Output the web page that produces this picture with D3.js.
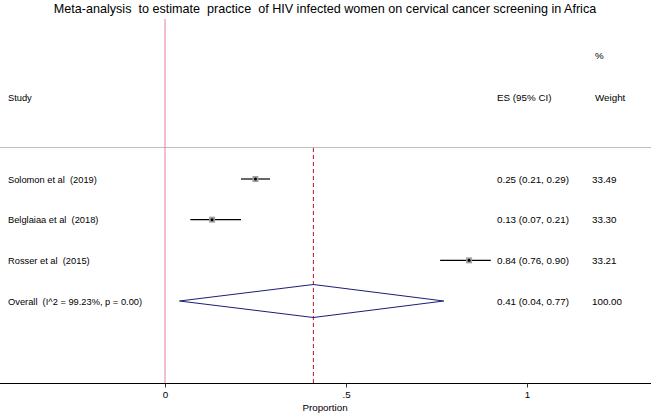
<!DOCTYPE html>
<html><head><meta charset="utf-8">
<script src="https://cdn.jsdelivr.net/npm/d3@7"></script>
<style>body{margin:0;background:#fff}svg{display:block;font-family:"Liberation Sans",Arial,sans-serif}svg text{white-space:pre}</style>
</head><body><svg id="c" width="651" height="413"></svg>
<script>
const studies = ["Solomon et al  (2019)", "Belglaiaa et al  (2018)", "Rosser et al  (2015)"];
const es = [0.25, 0.13, 0.84];
const lo = [0.21, 0.07, 0.76];
const hi = [0.29, 0.21, 0.90];
const weights = ["33.49", "33.30", "33.21"];
const overallLabel = "Overall  (I^2 = 99.23%, p = 0.00)";
const overall = {es: 0.41, lo: 0.04, hi: 0.77, w: "100.00"};
const tickVals = [0, 0.5, 1];
const tickLabels = ["0", ".5", "1"];
const title = "Meta-analysis  to estimate  practice  of HIV infected women on cervical cancer screening in Africa";

const svg = d3.select("#c");
const x = d3.scaleLinear().domain([0, 1]).range([165, 527]);
const rows = studies.concat(["Overall"]);
const y = d3.scalePoint().domain(d3.range(rows.length)).range([179, 301]);
const fs = 9.8, fsL = 9.3;
const axisY = 383.5;
const esX = 497, wX = 592;

svg.append("text").attr("x", 325).attr("y", 13).attr("text-anchor", "middle")
  .attr("font-size", 12.6).text(title);

// header
svg.append("text").attr("x", wX + 3).attr("y", 59).attr("font-size", fs).text("%");
svg.append("text").attr("x", 8).attr("y", 101).attr("font-size", fsL).text("Study");
svg.append("text").attr("x", esX).attr("y", 101).attr("font-size", fs).text("ES (95% CI)");
svg.append("text").attr("x", wX + 3).attr("y", 101).attr("font-size", fs).text("Weight");

// separator
svg.append("line").attr("x1", 0).attr("x2", 651).attr("y1", 147.5).attr("y2", 147.5)
  .attr("stroke", "#bdbdbd").attr("stroke-width", 1);

// null line
svg.append("line").attr("x1", x(0)).attr("x2", x(0)).attr("y1", 19).attr("y2", axisY)
  .attr("stroke", "#e8809a").attr("stroke-width", 1);

// overall dashed line
svg.append("line").attr("x1", x(overall.es)).attr("x2", x(overall.es)).attr("y1", 148).attr("y2", axisY)
  .attr("stroke", "#c0283f").attr("stroke-width", 1.1).attr("stroke-dasharray", "4,3");

// study rows
studies.forEach((s, i) => {
  const yy = y(i);
  svg.append("text").attr("x", 8).attr("y", yy + 3.5).attr("font-size", fsL).text(s);
  svg.append("line").attr("x1", x(lo[i])).attr("x2", x(hi[i])).attr("y1", yy).attr("y2", yy)
    .attr("stroke", "#000").attr("stroke-width", 1.2);
  svg.append("rect").attr("x", x(es[i]) - 3).attr("y", yy - 3).attr("width", 6).attr("height", 6)
    .attr("fill", "#a0a0a0");
  svg.append("circle").attr("cx", x(es[i])).attr("cy", yy).attr("r", 1.5).attr("fill", "#000");
  svg.append("text").attr("x", esX).attr("y", yy + 3.5).attr("font-size", fs)
    .text(`${es[i].toFixed(2)} (${lo[i].toFixed(2)}, ${hi[i].toFixed(2)})`);
  svg.append("text").attr("x", wX).attr("y", yy + 3.5).attr("font-size", fs).text(weights[i]);
});

// overall
const oy = y(3);
svg.append("text").attr("x", 8).attr("y", oy + 3.5).attr("font-size", fsL).text(overallLabel);
svg.append("path")
  .attr("d", `M${x(overall.lo)},${oy}L${x(overall.es)},${oy - 16.5}L${x(overall.hi)},${oy}L${x(overall.es)},${oy + 16.5}Z`)
  .attr("fill", "none").attr("stroke", "#1c1c7a").attr("stroke-width", 1);
svg.append("text").attr("x", esX).attr("y", oy + 3.5).attr("font-size", fs)
  .text(`${overall.es.toFixed(2)} (${overall.lo.toFixed(2)}, ${overall.hi.toFixed(2)})`);
svg.append("text").attr("x", wX).attr("y", oy + 3.5).attr("font-size", fs).text(overall.w);

// axis
svg.append("line").attr("x1", 0).attr("x2", 651).attr("y1", axisY).attr("y2", axisY)
  .attr("stroke", "#000").attr("stroke-width", 1.2);
const ax = d3.axisBottom(x).tickValues(tickVals).tickFormat((d, i) => tickLabels[i]).tickSize(4).tickPadding(4);
const g = svg.append("g").attr("transform", `translate(0,${axisY})`).call(ax);
g.select(".domain").remove();
g.selectAll("text").attr("font-size", fs).attr("font-family", "Liberation Sans, Arial, sans-serif").attr("fill", "#000");
g.selectAll("line").attr("stroke", "#333");
svg.append("text").attr("x", 325).attr("y", 411).attr("text-anchor", "middle").attr("font-size", fs).text("Proportion");
</script></body></html>
